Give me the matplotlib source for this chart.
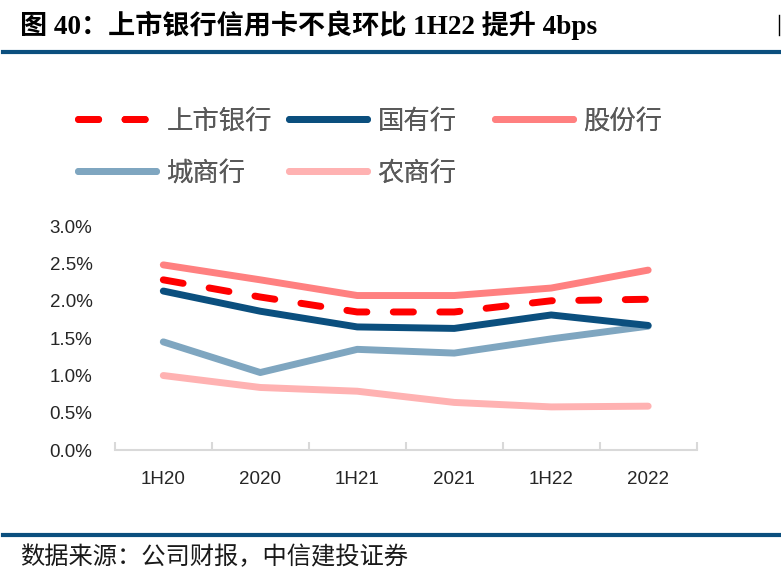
import numpy as np
import matplotlib.pyplot as plt
from matplotlib.ticker import FuncFormatter

# data (card NPL ratio, %)
periods = ['1H20', '2020', '1H21', '2021', '1H22', '2022']
listed = [2.28, 2.05, 1.85, 1.85, 2.00, 2.02]
state = [2.13, 1.86, 1.65, 1.63, 1.81, 1.67]
joint = [2.48, 2.28, 2.07, 2.07, 2.17, 2.41]
city = [1.45, 1.04, 1.35, 1.30, 1.49, 1.66]
rural = [1.00, 0.84, 0.79, 0.64, 0.58, 0.59]

cjk = ['Liberation Serif', 'Noto Sans CJK SC']
navy = '#0B4F7E'

fig = plt.figure(figsize=(7.81, 5.84), dpi=100)
ax = fig.add_axes([0.147, 0.229, 0.745, 0.384])

x = np.arange(len(periods))
lw = 5
ax.plot(x, joint, color='#FF8080', lw=lw, solid_capstyle='round', label='股份行', zorder=2)
ax.plot(x, city, color='#7FA6C0', lw=lw, solid_capstyle='round', label='城商行', zorder=2)
ax.plot(x, rural, color='#FFB2B2', lw=lw, solid_capstyle='round', label='农商行', zorder=2)
ax.plot(x, state, color=navy, lw=lw, solid_capstyle='round', label='国有行', zorder=3)
ax.plot(x, listed, color='#FF0000', lw=lw, dashes=(2.9, 3.8), dash_capstyle='round',
        label='上市银行', zorder=4)

ax.set_xlim(-0.5, 5.5)
ax.set_ylim(0, 3.0)
ax.set_yticks(np.arange(0, 3.01, 0.5))
ax.yaxis.set_major_formatter(FuncFormatter(lambda v, p: f'{v:.1f}%'))
ax.set_xticks(x)
ax.set_xticklabels(periods)
ax.set_xticks(np.arange(-0.5, 5.6, 1), minor=True)
ax.tick_params(axis='x', which='major', length=0, pad=15, labelsize=13.5, labelcolor='#262626')
ax.tick_params(axis='x', which='minor', length=6, direction='in', color='#D9D9D9', width=1.5)
ax.tick_params(axis='y', length=0, pad=16, labelsize=13.5, labelcolor='#262626')
for s in ['top', 'right', 'left']:
    ax.spines[s].set_visible(False)
ax.spines['bottom'].set_color('#D9D9D9')
ax.spines['bottom'].set_linewidth(1.5)
for lab in ax.get_xticklabels() + ax.get_yticklabels():
    lab.set_fontfamily('Liberation Sans')

# legend: three columns placed like the reference
h, l = ax.get_legend_handles_labels()
columns = [['上市银行', '城商行'], ['国有行', '农商行'], ['股份行']]
col_x = [0.100, 0.370, 0.634]
for names, cx in zip(columns, col_x):
    leg = fig.legend([h[l.index(n)] for n in names], names, loc='upper left',
                     bbox_to_anchor=(cx, 0.816), frameon=False, borderpad=0,
                     borderaxespad=0, handlelength=2.95, handletextpad=0.4,
                     labelspacing=0.95, prop={'family': 'Noto Sans CJK SC', 'size': 19},
                     labelcolor='#595959')
    fig.add_artist(leg)

# title, rules and source note
fig.text(0.026, 0.957, '图 40：上市银行信用卡不良环比 1H22 提升 4bps', fontsize=19.5,
         fontweight='bold', family=cjk, va='center', ha='left')
fig.add_artist(plt.Line2D([0.004, 1], [0.911, 0.911], color=navy, lw=3))
fig.add_artist(plt.Line2D([0.004, 1], [0.084, 0.084], color=navy, lw=3))
fig.add_artist(plt.Line2D([0.997, 0.997], [0.94, 0.975], color='black', lw=1))
fig.text(0.026, 0.045, '数据来源：公司财报，中信建投证券', fontsize=17.5,
         family=cjk, va='center', ha='left', color='#1a1a1a')

fig.savefig('out.png', dpi=100)
